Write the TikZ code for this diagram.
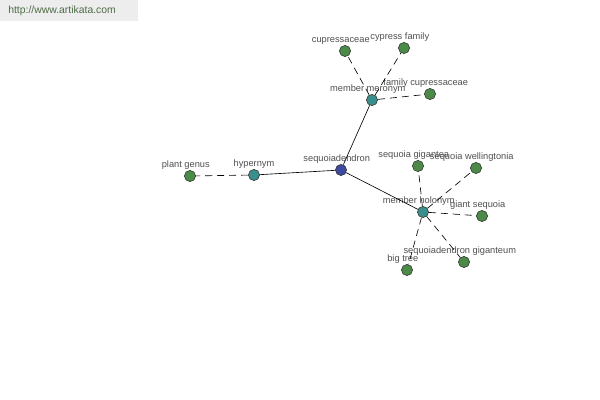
\documentclass[tikz,border=0pt]{standalone}
\usepackage{fontspec}
\setmainfont{Liberation Sans}
\usetikzlibrary{positioning}
\definecolor{rootblue}{HTML}{3F4A9E}
\definecolor{relteal}{HTML}{3A8F8C}
\definecolor{leafgreen}{HTML}{4B8A47}
\definecolor{lblgray}{HTML}{505050}
\definecolor{sitegreen}{HTML}{4E6B45}

\begin{document}
\begin{tikzpicture}[x=0.025cm, y=-0.025cm,
    dot/.style={circle, draw=black!80, line width=0.4pt, minimum size=0.28cm, inner sep=0pt},
    rootdot/.style={dot, fill=rootblue},
    reldot/.style={dot, fill=relteal},
    leafdot/.style={dot, fill=leafgreen},
    lbl/.style={font=\fontsize{6.6}{7}\selectfont, text=lblgray, inner sep=0pt, xshift=-3pt},
    link/.style={black, line width=0.45pt},
    dashlink/.style={black, line width=0.45pt, dash pattern=on 5pt off 3.5pt}]
    % canvas
    \useasboundingbox (0,0) rectangle (600,400);
    \fill[white] (0,0) rectangle (600,400);

    % site tag
    \fill[black!7] (0,0) rectangle (138,21);
    \node[anchor=west, text=sitegreen, font=\fontsize{7.4}{8}\selectfont, inner sep=0pt] (site) at (8,10.5) {http://www.artikata.com};

    % centre and relation nodes
    \node[rootdot, label={[lbl]above:sequoiadendron}] (root) at (341,170) {};
    \node[reldot, label={[lbl, xshift=3pt]above:hypernym}] (hyper) at (254,175) {};
    \node[reldot, label={[lbl]above:member meronym}] (mero) at (372,100) {};
    \node[reldot, label={[lbl]above:member holonym}] (holo) at (423,212) {};

    % leaves
    \node[leafdot, label={[lbl]above:plant genus}] (genus) at (190,176) {};
    \node[leafdot, label={[lbl]above:cupressaceae}] (cupr) at (345,51) {};
    \node[leafdot, label={[lbl]above:cypress family}] (cypr) at (404,48) {};
    \node[leafdot, label={[lbl]above:family cupressaceae}] (famcupr) at (430,94) {};
    \node[leafdot, label={[lbl]above:sequoia gigantea}] (gigantea) at (418,166) {};
    \node[leafdot, label={[lbl]above:sequoia wellingtonia}] (welling) at (476,168) {};
    \node[leafdot, label={[lbl]above:giant sequoia}] (giant) at (482,216) {};
    \node[leafdot, label={[lbl]above:sequoiadendron giganteum}] (giganteum) at (464,262) {};
    \node[leafdot, label={[lbl]above:big tree}] (bigtree) at (407,270) {};

    % solid links from the centre
    \draw[link] (root) -- (hyper);
    \draw[link] (root) -- (mero);
    \draw[link] (root) -- (holo);

    % dashed links to the leaves
    \draw[dashlink] (hyper) -- (genus);
    \foreach \leaf in {cupr, cypr, famcupr}
      \draw[dashlink] (mero) -- (\leaf);
    \foreach \leaf in {gigantea, welling, giant, giganteum, bigtree}
      \draw[dashlink] (holo) -- (\leaf);
\end{tikzpicture}
\end{document}
